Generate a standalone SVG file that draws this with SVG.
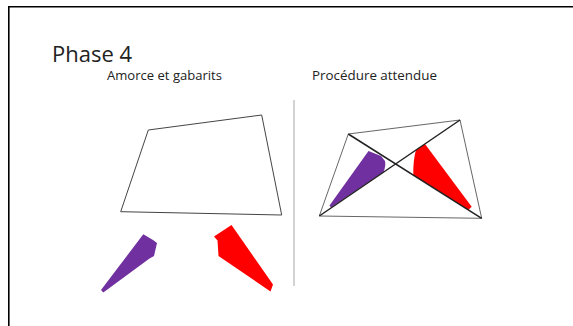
<svg xmlns="http://www.w3.org/2000/svg" width="573" height="326" viewBox="0 0 573 326">
<style>
.frame{stroke:#000;stroke-width:1.6;fill:none}
.quad{fill:none;stroke:#444;stroke-width:1}
.quad2{fill:none;stroke:#555;stroke-width:0.9}
.diag{stroke:#222;stroke-width:1.5;fill:none}
.purple{fill:#7030A0}
.red{fill:#FF0000}
.t{font-family:"Open Sans","Liberation Sans",sans-serif;fill:#222}
</style>
<rect width="573" height="326" fill="#fff"/>
<g id="frame">
<line class="frame" x1="8" y1="6.8" x2="573" y2="6.8"/>
<line class="frame" x1="8.8" y1="6" x2="8.8" y2="326"/>
</g>
<g id="title"><text class="t" x="52" y="62" font-size="22" textLength="80" lengthAdjust="spacingAndGlyphs">Phase 4</text></g>
<g id="label-left"><text class="t" x="107" y="80" font-size="13.5" textLength="115" lengthAdjust="spacingAndGlyphs">Amorce et gabarits</text></g>
<g id="label-right"><text class="t" x="312" y="80" font-size="13.5" textLength="125" lengthAdjust="spacingAndGlyphs">Procédure attendue</text></g>
<g id="separator"><line x1="294" y1="100" x2="294" y2="286" stroke="#c8c8c8" stroke-width="1.6"/></g>
<g id="left-quad"><polygon class="quad" points="148.3,130 261.7,115 281.7,215 120.7,211.7"/></g>
<g id="left-purple"><polygon class="purple" points="143.3,234.3 153,240 157,243 154,256 149.5,258.5 103.3,292.5 101,290"/></g>
<g id="left-red"><polygon class="red" points="214,236.5 231.5,225 273,284.5 270.5,291.5 218.5,256 217.5,240.5"/></g>
<g id="right-quad"><polygon class="quad2" points="348.3,134 460,120 481.7,218.3 319.3,216"/></g>
<g id="right-purple"><path class="purple" d="M368.5,151 L381,156 L385,161 Q386,166 383.5,172 L331,207.5 L329.5,205.5 Z"/></g>
<g id="right-red"><path class="red" d="M416,150 L425,144 L471.7,206.7 L468.3,210 L413.3,175 Q413,160 416,150 Z"/></g>
<g id="diagonals">
<line class="diag" x1="348.3" y1="134" x2="481.7" y2="218.3"/>
<line class="diag" x1="319.3" y1="216" x2="460" y2="120"/>
</g>
</svg>
